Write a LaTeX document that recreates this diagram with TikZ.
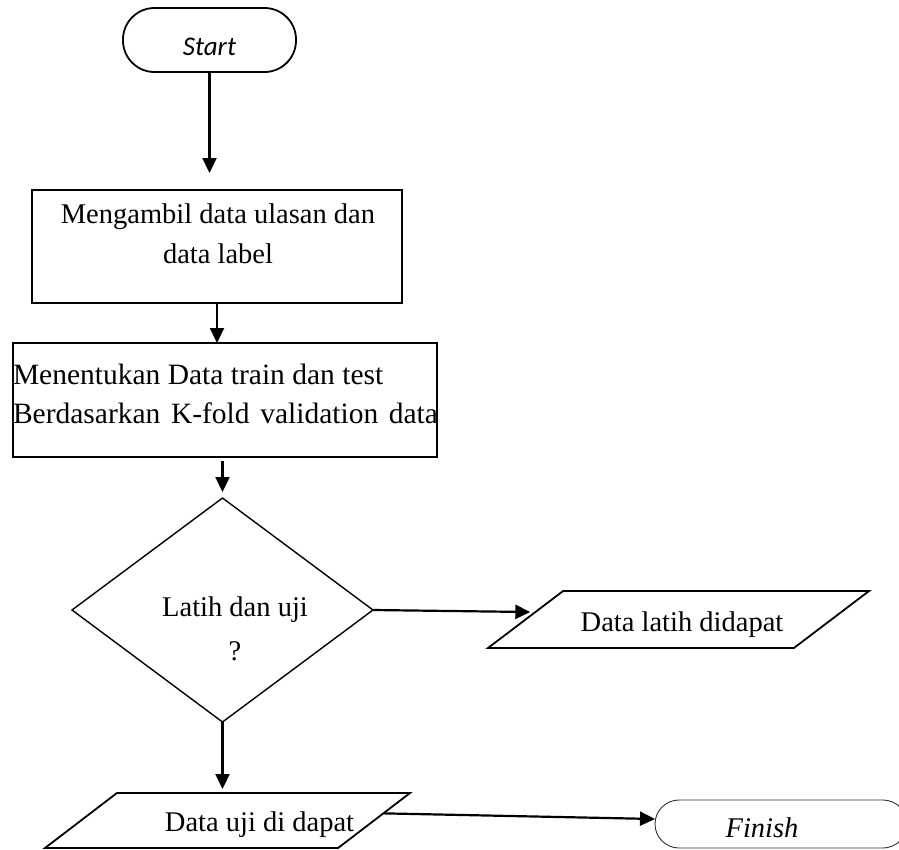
\documentclass[tikz,border=0pt]{standalone}
\usepackage{fontspec}
\setmainfont{Liberation Serif}
\newfontfamily\startfont{Carlito}
\usetikzlibrary{arrows.meta,shapes.geometric,calc}

\begin{document}
\begin{tikzpicture}[x=1pt,y=-1pt,
  every node/.style={inner sep=0pt, outer sep=0pt},
  termbox/.style={draw, line width=1.8pt, rectangle, rounded corners=31.5pt},
  procbox/.style={draw, line width=1.8pt, rectangle},
  decision/.style={draw, diamond, line width=1.4pt},
  iobox/.style={draw, trapezium, trapezium stretches body, line width=1.8pt},
  txt/.style={anchor=base, font=\fontsize{28.5}{34}\selectfont},
  arr/.style={line width=2.2pt, -{Triangle[length=15pt,width=14pt]}}
]
\useasboundingbox (0,0) rectangle (899,849);

% terminal: start
\node[termbox, minimum width=173pt, minimum height=64pt] (start) at (209.5,40) {};
\node[txt, font=\startfont\itshape\fontsize{27}{31}\selectfont] (startt) at (209.5,55) {Start};

% first process box
\node[procbox, minimum width=370pt, minimum height=113pt] (b1) at (217,246.5) {};
\node[txt] (b1a) at (218,223) {Mengambil data ulasan dan};
\node[txt] (b1b) at (218,263) {data label};

% second process box
\node[procbox, minimum width=424pt, minimum height=114pt] (b2) at (225,400) {};
\node[txt, anchor=base west, font=\fontsize{29.5}{34}\selectfont] (b2a) at (13,384) {Menentukan Data train dan test};
\node[txt, anchor=base west, font=\fontsize{29.5}{34}\selectfont] (b2b) at (13,423)
  {\makebox[425pt][s]{Berdasarkan K-fold validation data}};

% decision
\node[decision, minimum width=301pt, minimum height=224pt] (dia) at (222.5,610) {};
\node[txt] (diaa) at (235,616) {Latih dan uji};
\node[txt] (diab) at (235,660) {?};

% output: training data (the rule fixes the height, so the slant follows the angles)
\node[iobox, trapezium left angle=37.2, trapezium right angle=142.8,
      minimum width=381pt] (p1) at (678.5,619.5) {\rule{0pt}{57pt}};
\node[txt] (p1t) at (682,631) {Data latih didapat};

% output: test data
\node[iobox, trapezium left angle=37.4, trapezium right angle=142.6,
      minimum width=365pt] (p2) at (227.5,820.5) {\rule{0pt}{55pt}};
\node[txt] (p2t) at (259.5,831) {Data uji di dapat};

% terminal: finish
\node[draw=black!80, line width=0.9pt, rounded corners=24pt, minimum width=252pt, minimum height=48pt] (fin) at (781,824) {};
\node[txt, font=\itshape\fontsize{28.5}{34}\selectfont] (fint) at (762,837) {Finish};

% connectors
\coordinate (p1in) at ($(p1.top left corner)!0.37!(p1.bottom left corner)$);
\coordinate (p2out) at ($(p2.top right corner)!0.37!(p2.bottom right corner)$);
\coordinate (finin) at ($(fin.west)+(0,-5)$);

\draw[arr, shorten >=17pt] (start.south) -- (start.south |- b1.north);
\draw[arr] (b1.south) -- (b1.south |- b2.north);
\draw[arr, shorten <=4pt, shorten >=6pt] (dia.north |- b2.south) -- (dia.north);
\draw[arr, shorten >=5pt] (dia.east) -- (p1in);
\draw[arr, shorten >=4pt] (dia.south) -- (dia.south |- p2.north);
\draw[arr] (p2out) -- (finin);
\end{tikzpicture}
\end{document}
